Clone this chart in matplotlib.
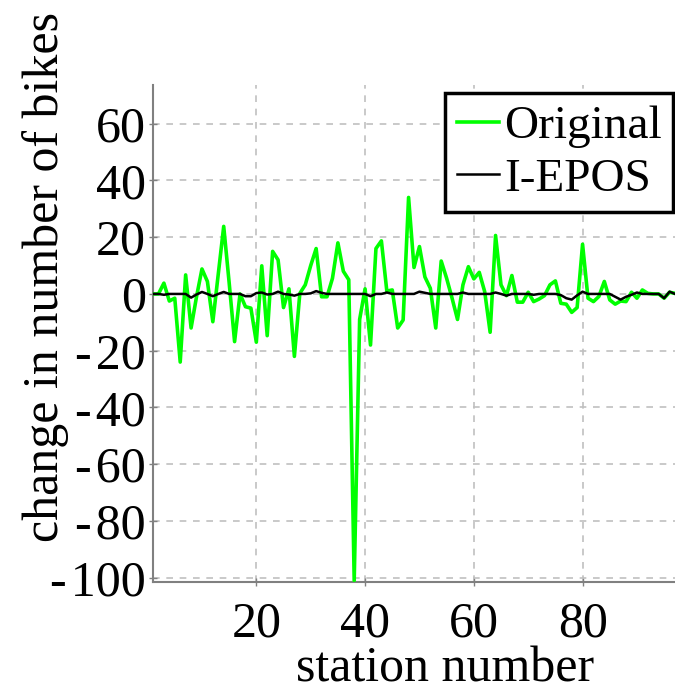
import matplotlib
matplotlib.use('Agg')
import matplotlib.pyplot as plt
from matplotlib.ticker import FuncFormatter

stations = list(range(1, 98))
original = [0, 0, 3.8, -2.5, -1.5, -24, 6.7, -12, -1, 8.8,
            4.4, -9.8, 7, 23.8, 4, -16.8, 0, -4.5, -5, -17,
            9.9, -14.7, 15, 12, -4.8, 1.8, -22, 0.2, 3.2, 10,
            16, -1, -1, 5.5, 18, 8, 5, -101, -9, 1.8,
            -18, 16, 18.7, 1, 1.4, -12, -9.2, 34, 9.3, 16.7,
            6, 2, -12, 11.6, 5.5, -1.5, -9, 3.2, 9.6, 5.3,
            7.6, 0.8, -13.5, 20.6, 3.2, -0.6, 6.5, -2.9, -2.9, 0.6,
            -2.7, -1.8, -0.6, 3.2, 4.6, -3.3, -3.6, -6.5, -4.8, 17.5,
            -1.5, -2.7, -0.9, 4.4, -2.1, -3.6, -2.5, -2.7, 0.6, -1.5,
            1.4, 0.2, 0, 0, -1.5, 0.6, 0.2]
iepos = [0, 0, -0.3, 0, 0, 0, 0, -1.3, -0.2, 0.7,
         0, -0.8, 0, 0.7, 0, 0, 0, -0.8, -0.8, 0.3,
         0.5, -0.2, 0, 0.8, 0, -0.2, -0.6, 0, 0, 0.2,
         1, 0.4, 0, 0, 0, 0, 0, 0, 0, 0,
         -0.8, 0, 0, 0.5, 0, 0, 0, 0, 0, 0.8,
         0.4, 0, 0, 0, 0, 0, 0, 0.5, 0, 0,
         0, 0, 0, 0.5, 0, -0.6, 0, 0, 0, 0,
         -0.3, 0, 0, 0, 0, -0.4, -1.5, -2, -0.5, 0.8,
         0, 0, 0, 0, 0, -1, -2, -1, -0.3, 0.5,
         0, 0, 0, 0, -1.5, 0.8, 0]
yticks = [-100, -80, -60, -40, -20, 0, 20, 40, 60]
xticks = [20, 40, 60, 80]

plt.rcParams['font.family'] = 'Liberation Serif'
plt.rcParams['axes.unicode_minus'] = False

fig = plt.figure(figsize=(6.75, 6.86), dpi=100)
ax = fig.add_axes([0.2267, 0.1516, 0.7733, 0.7240])

ax.plot(stations, original, color='#00ff00', linewidth=2.6, label='Original', zorder=3)
ax.plot(stations, iepos, color='black', linewidth=1.8, label='I-EPOS', zorder=4)

ax.set_xlim(1, 97)
ax.set_ylim(-101.5, 73.5)
ax.set_xticks(xticks)
ax.set_yticks(yticks)
ax.yaxis.set_major_formatter(FuncFormatter(
    lambda v, p: ('-\u200a%d' % abs(v)) if v < 0 else '%d' % v))
ax.tick_params(labelsize=36, direction='inout', length=6, color='#808080', width=1)
ax.tick_params(axis='y', pad=2)
ax.tick_params(axis='x', pad=11)
ax.grid(True, color='#c0c0c0', linestyle=(0, (4, 4)), linewidth=1.2)
for side in ['top', 'right']:
    ax.spines[side].set_visible(False)
for side in ['left', 'bottom']:
    ax.spines[side].set_color('#808080')
    ax.spines[side].set_linewidth(1.5)

ax.set_xlabel('station number', fontsize=36)
ax.xaxis.set_label_coords(0.559, -0.128)
ax.set_ylabel('change in number of bikes', fontsize=36)
ax.yaxis.set_label_coords(-0.161, 0.614)

leg = ax.legend(loc='upper right', bbox_to_anchor=(0.997, 0.984), fontsize=34,
                fancybox=False, framealpha=1, edgecolor='black',
                handlelength=0.9, handletextpad=0.1, borderpad=0.25,
                labelspacing=0.2, borderaxespad=0.0)
leg.get_frame().set_linewidth(2.5)

fig.savefig('out.png', dpi=100)
